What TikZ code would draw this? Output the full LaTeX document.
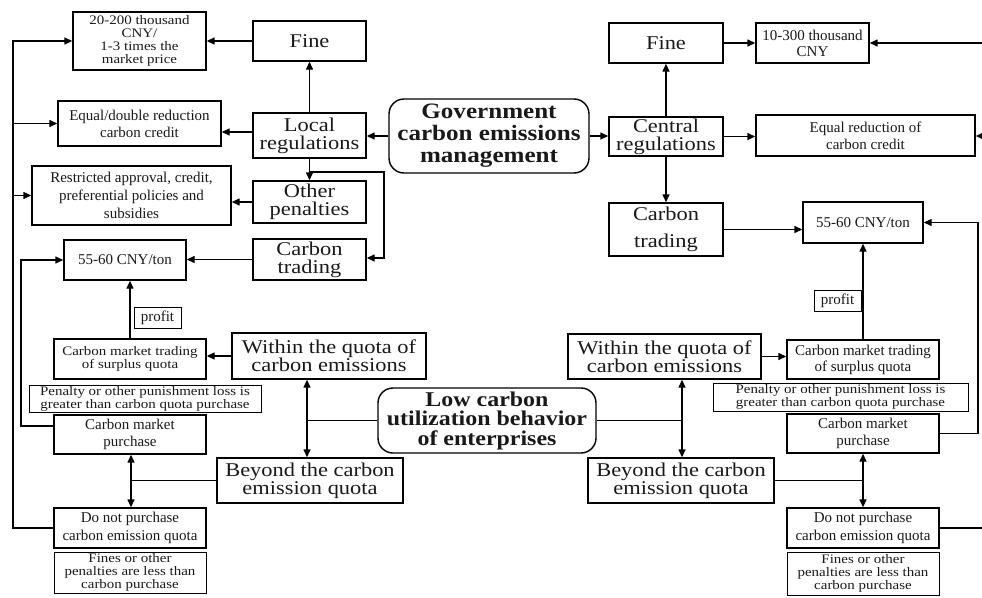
\documentclass[tikz,border=0pt]{standalone}
\usepackage{fontspec}
\setmainfont{Liberation Serif}
\newfontfamily\wfbig[FakeStretch=1.15]{Liberation Serif}
\newfontfamily\wftight[FakeStretch=1.15]{Liberation Serif}
\newfontfamily\wfbold[FakeStretch=1.14]{Liberation Serif}
\usetikzlibrary{arrows.meta}
\setlength{\lineskiplimit}{-50pt}
\begin{document}
\begin{tikzpicture}[x=1pt,y=-1pt,
  box/.style={draw, line width=1.4pt, inner sep=0pt, align=center, text=black!90},
  sz/.style 2 args={minimum width=#1pt, minimum height=#2pt},
  bigt/.style={font=\wfbig\fontsize{19.5}{18}\selectfont},
  smt/.style={font=\fontsize{15}{17}\selectfont},
  tightt/.style={font=\wftight\fontsize{13}{13}\selectfont},
  boldt/.style={font=\wfbold\bfseries\fontsize{22}{22}\selectfont, rounded corners=15pt},
  thinbox/.style={line width=0.9pt},
  ln/.style={line width=1.4pt},
  arr/.style={line width=1.4pt, -{Triangle[length=8pt,width=7pt]}},
  arr2/.style={line width=1.4pt, {Triangle[length=8pt,width=7pt]}-{Triangle[length=8pt,width=7pt]}}]
\useasboundingbox (0,0) rectangle (982,597);

% ---- upper left
\node[box,tightt,sz={133}{58}] (L20) at (139.5,41) {20-200 thousand\\CNY/\\1-3 times the\\market price};
\node[box,bigt,sz={113}{40}] (LFine) at (309.5,41) {Fine};
\node[box,smt,sz={163}{45}] (LEqual) at (139.5,123.5) {Equal/double reduction\\carbon credit};
\node[box,bigt,sz={113}{45}] (LLocal) at (309.5,135.5) {Local\\regulations};
\node[box,sz={199}{59},font=\fontsize{15}{18}\selectfont] (LRestr) at (131.5,195.5) {Restricted approval, credit,\\preferential policies and\\subsidies};
\node[box,bigt,sz={113}{42}] (LOther) at (309.5,202) {Other\\penalties};
\node[box,smt,sz={122}{40}] (L5560) at (125,260) {55-60 CNY/ton};
\node[box,bigt,sz={113}{41}] (LTrade) at (309.5,259.5) {Carbon\\trading};

% ---- centre top
\node[box,boldt,sz={200}{74}] (Gov) at (489,136) {Government\\carbon emissions\\management};

% ---- upper right
\node[box,bigt,sz={114}{40}] (RFine) at (666,43) {Fine};
\node[box,sz={113}{40},font=\fontsize{15}{16}\selectfont] (R10) at (812.5,43) {10-300 thousand\\CNY};
\node[box,bigt,sz={114}{39}] (RCentral) at (666,136.5) {Central\\regulations};
\node[box,smt,sz={219}{41}] (REqual) at (865.5,135.5) {Equal reduction of\\carbon credit};
\node[box,sz={114}{53},font=\wfbig\fontsize{19.5}{27}\selectfont] (RTrade) at (666,229.5) {Carbon\\trading};
\node[box,smt,sz={120}{41}] (R5560) at (863,222.5) {55-60 CNY/ton};

% ---- lower left
\node[box,thinbox,smt,sz={47}{21}] (Lprofit) at (157.5,317.5) {profit};
\node[box,tightt,sz={152}{40}] (LCMT) at (130,359) {Carbon market trading\\of surplus quota};
\node[box,bigt,sz={194}{46}] (LWithin) at (329,356) {Within the quota of\\carbon emissions};
\node[box,thinbox,tightt,sz={232}{27}] (LPen) at (145,398.5) {Penalty or other punishment loss is\\greater than carbon quota purchase};
\node[box,smt,sz={152}{39}] (LCMP) at (130,434.5) {Carbon market\\purchase};
\node[box,boldt,sz={218}{65},font=\wfbold\bfseries\fontsize{21}{19.5}\selectfont] (Low) at (487,420.5) {Low carbon\\utilization behavior\\of enterprises};
\node[box,bigt,sz={186}{45}] (LBeyond) at (310,480.5) {Beyond the carbon\\emission quota};
\node[box,sz={152}{40},font=\fontsize{15}{18}\selectfont] (LDNP) at (130,528) {Do not purchase\\carbon emission quota};
\node[box,thinbox,tightt,sz={152}{41}] (LFines) at (130,572.5) {Fines or other\\penalties are less than\\carbon purchase};

% ---- lower right
\node[box,thinbox,smt,sz={47}{21}] (Rprofit) at (837.5,300.5) {profit};
\node[box,bigt,sz={193}{45}] (RWithin) at (664.5,356.5) {Within the quota of\\carbon emissions};
\node[box,sz={152}{39},font=\fontsize{15}{16}\selectfont] (RCMT) at (863,359.5) {Carbon market trading\\of surplus quota};
\node[box,thinbox,tightt,sz={255}{28}] (RPen) at (840.5,397) {Penalty or other punishment loss is\\greater than carbon quota purchase};
\node[box,smt,sz={152}{39}] (RCMP) at (863,433.5) {Carbon market\\purchase};
\node[box,bigt,sz={186}{45}] (RBeyond) at (681,480.5) {Beyond the carbon\\emission quota};
\node[box,sz={152}{40},font=\fontsize{15}{18}\selectfont] (RDNP) at (863,528) {Do not purchase\\carbon emission quota};
\node[box,thinbox,tightt,sz={152}{43}] (RFines) at (863,573.5) {Fines or other\\penalties are less than\\carbon purchase};

% ---- connectors, left
\draw[arr] (LFine) -- (L20);
\draw[arr] (LLocal) -- (LFine);
\coordinate (aEq) at (253,132);
\draw[arr] (aEq) -- (aEq -| LEqual.east);
\draw[arr] (Gov.west) -- (Gov.west -| LLocal.east);
\draw[arr] (LLocal) -- (LOther);
\coordinate (jL1) at (309.5,172);
\coordinate (jL2) at (384,172);
\coordinate (jL3) at (384,258);
\draw[arr] (jL1) -- (jL2) -- (jL3) -- (jL3 -| LTrade.east);
\draw[arr] (LOther.west) -- (LOther.west -| LRestr.east);
\draw[arr] (LTrade.west) -- (LTrade.west -| L5560.east);
\coordinate (tTop) at (13,41);
\draw[arr] (LDNP.west) -| (tTop) -- (L20.west);
\draw[arr] (tTop |- LEqual.west) -- (LEqual.west);
\draw[arr] (tTop |- LRestr.west) -- (LRestr.west);
\coordinate (iTop) at (21,260);
\draw[arr] ([yshift=8.5pt]LCMP.west) -| (iTop) -- (L5560.west);
\draw[arr] (LCMT.north) -- (LCMT.north |- L5560.south);
\draw[arr] (LWithin.west) -- (LWithin.west -| LCMT.east);
\coordinate (jLow) at (307,420.5);
\draw[ln] (Low.west) -- (jLow);
\draw[arr2] (jLow |- LWithin.south) -- (jLow |- LBeyond.north);
\coordinate (jLB) at (131,480.5);
\draw[ln] (LBeyond.west) -- (jLB);
\draw[arr2] (jLB |- LCMP.south) -- (jLB |- LDNP.north);

% ---- connectors, right
\draw[arr] (Gov.east) -- (Gov.east -| RCentral.west);
\draw[arr] (RCentral) -- (RFine);
\draw[arr] (RCentral) -- (RTrade);
\draw[arr] (RFine) -- (R10);
\draw[arr] (RCentral.east) -- (RCentral.east -| REqual.west);
\draw[arr] (RTrade.east) -- (RTrade.east -| R5560.west);
\coordinate (eA) at (982,43);
\coordinate (eB) at (982,136);
\coordinate (eC) at (982,528);
\draw[arr] (eA) -- (R10.east);
\draw[arr] (eB) -- (eB -| REqual.east);
\draw[ln] (RDNP.east) -- (eC);
\coordinate (rTop) at (978,222.5);
\draw[arr] (RCMP.east) -| (rTop) -- (R5560.east);
\draw[arr] (RCMT.north) -- (R5560.south);
\draw[arr] (RWithin.east) -- (RWithin.east -| RCMT.west);
\coordinate (jR) at (682,420.5);
\draw[ln] (Low.east) -- (jR);
\draw[arr2] (jR |- RWithin.south) -- (jR |- RBeyond.north);
\coordinate (jRB) at (863,480.5);
\draw[ln] (RBeyond.east) -- (jRB);
\draw[arr2] (jRB |- RCMP.south) -- (jRB |- RDNP.north);
\end{tikzpicture}
\end{document}
